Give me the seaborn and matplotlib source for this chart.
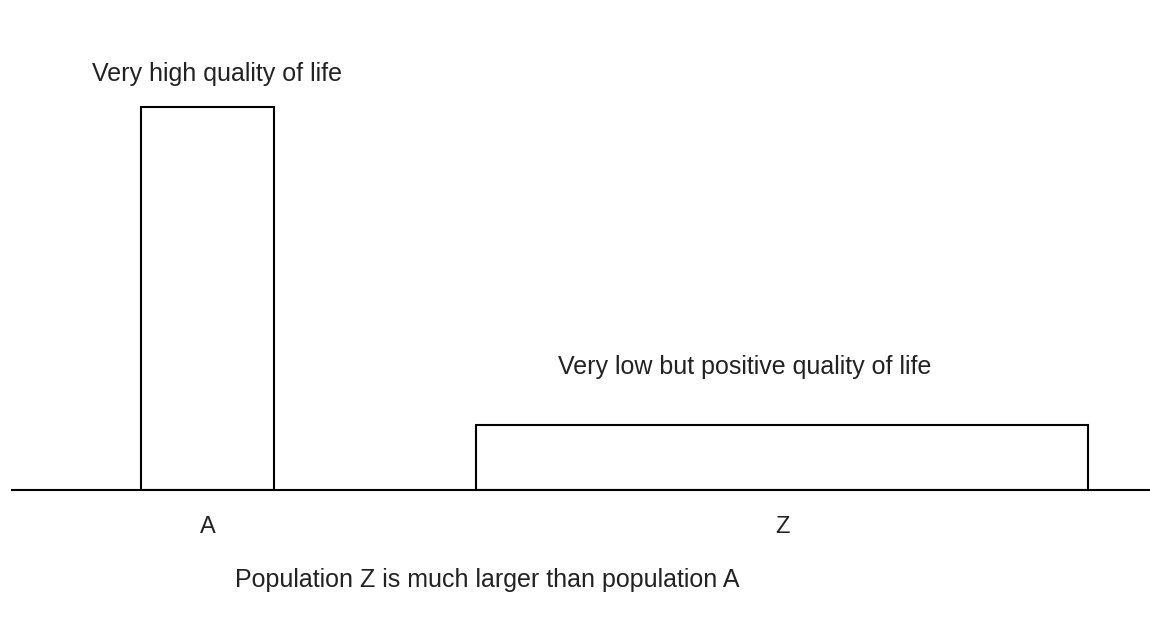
import matplotlib
matplotlib.use("Agg")
import matplotlib.pyplot as plt
import seaborn as sb

# population sketch: width = population size, height = quality of life
groups = ["A", "Z"]
population = [1.0, 4.6]
quality = [1.0, 0.17]
bar_notes = ["Very high quality of life", "Very low but positive quality of life"]
caption = "Population Z is much larger than population A"

sb.set_theme(style="white")
plt.rcParams['font.family'] = ['Liberation Sans', 'DejaVu Sans']

fig = plt.figure(figsize=(11.5, 6.41), dpi=100)
ax = fig.add_axes([12 / 1150, 151 / 641, 1138 / 1150, 490 / 641])

# left edges of the bars (layout only)
lefts = [0.97, 0.97 + population[0] + 1.52]
ax.bar(lefts, quality, width=population, align="edge",
       facecolor="white", edgecolor="black", linewidth=1.5)

# notes above each bar
ax.text(lefts[0] + 0.07 + population[0] / 2, quality[0] + 0.085, bar_notes[0],
        ha="center", va="center", fontsize=18, color="#222222")
ax.text(lefts[1] - 0.28 + population[1] / 2, quality[1] + 0.15, bar_notes[1],
        ha="center", va="center", fontsize=18, color="#222222")

centers = [l + w / 2 for l, w in zip(lefts, population)]
ax.set_xticks(centers)
ax.set_xticklabels(groups, fontsize=17, color="#222222")
ax.tick_params(axis="x", length=0, pad=19)
ax.set_yticks([])
ax.set_xlim(0, 1138 / 133)
ax.set_ylim(0, 490 / 383)

sb.despine(ax=ax, left=True)
ax.spines["bottom"].set_color("black")
ax.spines["bottom"].set_linewidth(1.5)

fig.text(487 / 1150, 1 - 580 / 641, caption, ha="center", va="center",
         fontsize=18, color="#222222")

fig.savefig("out.png", dpi=100)
